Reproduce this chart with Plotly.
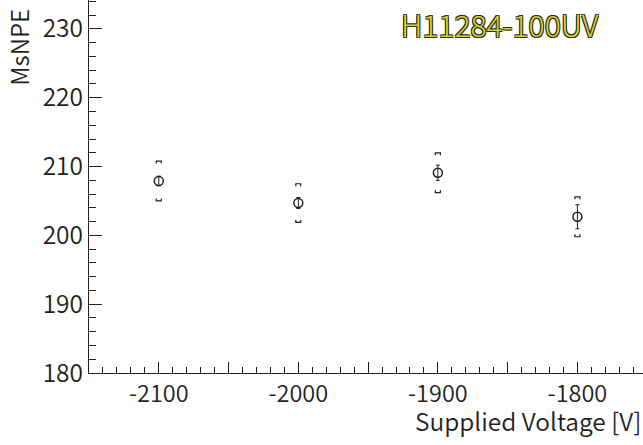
import plotly.graph_objects as go

# Measured MsNPE versus supplied voltage (H11284-100UV)
voltage = [-2100, -2000, -1900, -1800]
msnpe = [207.9, 204.7, 209.1, 202.7]
stat_err = [0.7, 0.8, 1.1, 1.75]
sys_err = [2.9, 2.8, 2.9, 2.9]

x_tick_vals = [-2150, -2100, -2050, -2000, -1950, -1900, -1850, -1800, -1750]
x_tick_text = ["", "-2100", "", "-2000", "", "-1900", "", "-1800", ""]
y_tick_vals = [180, 190, 200, 210, 220, 230]

INK = "#231f20"
FONT = "Noto Sans CJK JP"
X_RANGE = [-2150, -1753]
Y_RANGE = [180, 234.2]
BRACKET_HALF_W = 1.8   # in volts
BRACKET_LEG = 0.35     # in MsNPE units

# Systematic uncertainties drawn as ROOT-style "[ ]" brackets
bx, by = [], []
for v, m, s in zip(voltage, msnpe, sys_err):
    top, bot = m + s, m - s
    l, r = v - BRACKET_HALF_W, v + BRACKET_HALF_W
    bx += [l, l, r, r, None, l, l, r, r, None]
    by += [top - BRACKET_LEG, top, top, top - BRACKET_LEG, None,
           bot + BRACKET_LEG, bot, bot, bot + BRACKET_LEG, None]

fig = go.Figure()
fig.add_trace(go.Scatter(
    x=bx, y=by, mode="lines", line=dict(color=INK, width=1.2),
    hoverinfo="skip", showlegend=False,
))
fig.add_trace(go.Scatter(
    x=voltage, y=msnpe, mode="markers",
    marker=dict(symbol="circle-open", size=9, color=INK, line=dict(width=1.5, color=INK)),
    error_y=dict(type="data", array=stat_err, visible=True, color=INK, thickness=1, width=2),
    showlegend=False,
))

axis_common = dict(
    showline=True, linecolor=INK, linewidth=1.2, mirror=False,
    showgrid=False, zeroline=False,
    ticks="inside", tickcolor=INK, tickwidth=1,
    tickfont=dict(family=FONT, size=24.5, color=INK, weight=350),
)

fig.update_xaxes(
    range=X_RANGE, tickmode="array", tickvals=x_tick_vals, ticktext=x_tick_text,
    ticklen=11,
    minor=dict(tick0=-2150, dtick=10, ticks="inside", ticklen=6, tickcolor=INK, showgrid=False),
    **axis_common,
)
fig.update_xaxes(tickfont_size=23.5)
fig.update_yaxes(
    range=Y_RANGE, tickmode="array", tickvals=y_tick_vals,
    ticktext=[str(v) for v in y_tick_vals], ticklen=13,
    minor=dict(tick0=180, dtick=2, ticks="inside", ticklen=7, tickcolor=INK, showgrid=False),
    **axis_common,
)

outline = "#2e2e14"
fig.update_layout(
    width=643, height=445,
    margin=dict(l=89, r=0, t=0, b=72),
    paper_bgcolor="white", plot_bgcolor="white",
    font=dict(family=FONT, color=INK),
    annotations=[
        dict(text="H11284-100UV", xref="paper", yref="paper", x=0.742, y=0.936,
             xanchor="center", yanchor="middle", showarrow=False,
             font=dict(family=FONT, size=30, color="#d4d43c", weight=300,
                       shadow=f"-1px -1px 0 {outline}, 1px -1px 0 {outline}, "
                              f"-1px 1px 0 {outline}, 1px 1px 0 {outline}")),
        dict(text="Supplied Voltage [V]", xref="paper", yref="paper", x=1.0, y=-0.127,
             xanchor="right", yanchor="middle", showarrow=False,
             font=dict(family=FONT, size=24.5, color=INK, weight=350)),
        dict(text="MsNPE", xref="paper", yref="paper", x=-0.128, y=0.981,
             xanchor="center", yanchor="top", textangle=-90, showarrow=False,
             font=dict(family=FONT, size=24, color=INK, weight=350)),
    ],
)

fig.write_html("out.html")
